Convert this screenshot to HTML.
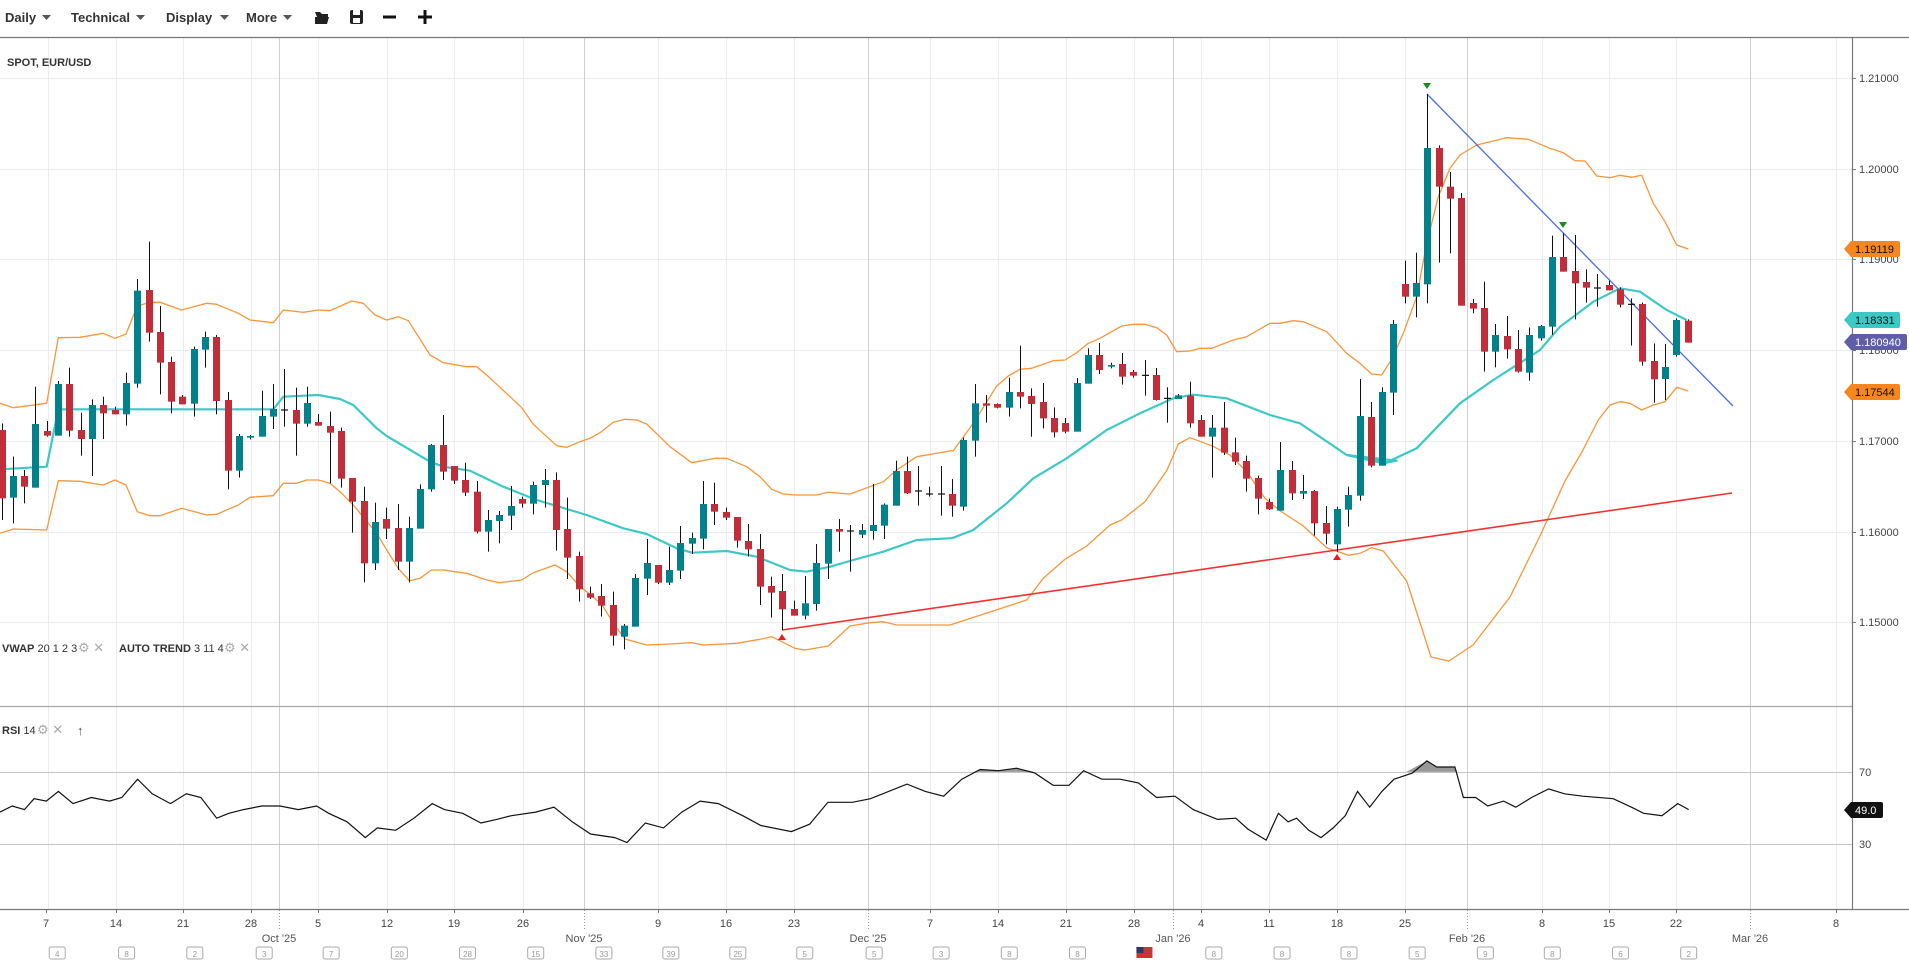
<!DOCTYPE html>
<html><head><meta charset="utf-8"><style>
html,body{margin:0;padding:0;background:#fff;width:1909px;height:967px;overflow:hidden;font-family:"Liberation Sans",sans-serif}
svg{display:block}
</style></head><body>
<svg id="s" width="1909" height="967" viewBox="0 0 1909 967" xmlns="http://www.w3.org/2000/svg" font-family="Liberation Sans, sans-serif">
<rect width="1909" height="967" fill="#fff"/>
<g id="grid"></g>
<g id="lines"></g>
<g id="candles"></g>
<g id="over"></g>
<!-- toolbar -->
<g font-size="13" font-weight="bold" fill="#333">
<text x="5" y="22">Daily</text><path d="M42 15h9l-4.5 5z" fill="#555"/>
<text x="71" y="22">Technical</text><path d="M136 15h9l-4.5 5z" fill="#555"/>
<text x="166" y="22">Display</text><path d="M220 15h9l-4.5 5z" fill="#555"/>
<text x="246" y="22">More</text><path d="M283 15h9l-4.5 5z" fill="#555"/>
<path d="M315 12h5l2 2h6v3h-11zM315 17h14l-2 7h-12z" fill="#222"/>
<rect x="350" y="10" width="13" height="14" rx="2" fill="#222"/><rect x="353" y="10" width="7" height="5" fill="#fff"/><rect x="353" y="18" width="7" height="5" fill="#fff"/>
<rect x="383" y="15.5" width="13" height="3" fill="#111"/>
<rect x="418" y="15.5" width="14" height="3" fill="#111"/><rect x="423.5" y="10" width="3" height="14" fill="#111"/>
</g>
<line x1="0" y1="37.5" x2="1909" y2="37.5" stroke="#777" stroke-width="1.2"/>
<text x="7" y="66" font-size="11" font-weight="bold" fill="#333">SPOT, EUR/USD</text>
<g font-size="11" fill="#333">
<text x="2" y="652"><tspan font-weight="bold">VWAP</tspan> 20 1 2 3</text>
<text x="78" y="652" fill="#aaa" font-size="13">⚙ ✕</text>
<text x="119" y="652"><tspan font-weight="bold">AUTO TREND</tspan> 3 11 4</text>
<text x="224" y="652" fill="#aaa" font-size="13">⚙ ✕</text>
<text x="2" y="734"><tspan font-weight="bold">RSI</tspan> 14</text>
<text x="37" y="734" fill="#aaa" font-size="13">⚙ ✕</text>
<text x="77" y="735" fill="#555" font-size="13">↑</text>
</g>
</svg>
<script>
const NS="http://www.w3.org/2000/svg";
function el(p,t,a,txt){const e=document.createElementNS(NS,t);for(const k in a)e.setAttribute(k,a[k]);if(txt!==undefined)e.textContent=txt;document.getElementById(p).appendChild(e);return e;}
// grid
const hy=[78,169,259,350,441,532,622];
hy.forEach(y=>el('grid','line',{x1:0,y1:y+.5,x2:1852,y2:y+.5,stroke:'#ececec'}));
const wk=[48,116,183,251,318,387,454,523,658,726,794,930,998,1066,1134,1201,1269,1337,1405,1542,1609,1676,1836];
wk.forEach(x=>el('grid','line',{x1:x+.5,y1:38,x2:x+.5,y2:909,stroke:'#ececec'}));
const mo=[279,584,868,1173,1467,1750];
mo.forEach(x=>el('grid','line',{x1:x+.5,y1:38,x2:x+.5,y2:909,stroke:'#cfcfcf'}));
el('grid','line',{x1:0,y1:706.5,x2:1852,y2:706.5,stroke:'#aaa',"stroke-width":1.2});
el('grid','line',{x1:0,y1:772.5,x2:1852,y2:772.5,stroke:'#c4c4c4'});
el('grid','line',{x1:0,y1:844.5,x2:1852,y2:844.5,stroke:'#c4c4c4'});
el('grid','line',{x1:0,y1:909.5,x2:1909,y2:909.5,stroke:'#777',"stroke-width":1.2});
el('grid','line',{x1:1852.5,y1:38,x2:1852.5,y2:909,stroke:'#777',"stroke-width":1.2});
// price axis
[["1.21000",78],["1.20000",169],["1.19000",259],["1.18000",350],["1.17000",441],["1.16000",532],["1.15000",622]].forEach(([t,y])=>{
 el('grid','line',{x1:1852,y1:y+.5,x2:1856,y2:y+.5,stroke:'#777'});
 el('grid','text',{x:1859,y:y+4,"font-size":11,fill:'#444'},t);});
el('grid','text',{x:1859,y:776,"font-size":11,fill:'#444'},"70");
el('grid','text',{x:1859,y:848,"font-size":11,fill:'#444'},"30");
// date labels
const dl=[[7,46],[14,116],[21,183],[28,251],[5,318],[12,387],[19,454],[26,523],[9,658],[16,726],[23,794],[7,930],[14,998],[21,1066],[28,1134],[4,1201],[11,1269],[18,1337],[25,1405],[8,1542],[15,1609],[22,1676],[8,1836]];
dl.forEach(([t,x])=>{el('grid','text',{x:x,y:927,"font-size":11,fill:'#444',"text-anchor":"middle"},String(t));el('grid','line',{x1:x+.5,y1:909,x2:x+.5,y2:913,stroke:'#777'});});
[["Oct '25",279],["Nov '25",584],["Dec '25",868],["Jan '26",1173],["Feb '26",1467],["Mar '26",1750]].forEach(([t,x])=>{
 el('grid','text',{x:x,y:942,"font-size":11,fill:'#555',"text-anchor":"middle"},t);
 el('grid','line',{x1:x+.5,y1:910,x2:x+.5,y2:930,stroke:'#999',"stroke-dasharray":"1,2"});});
const cal=[[47,4],[104,8],[160,2],[217,3],[272,7],[328,20],[384,28],[440,15],[496,33],[551,39],[606,25],[661,5],[718,5],[773,3],[829,8],[885,8],[940,-1],[997,8],[1053,8],[1108,8],[1164,5],[1220,9],[1275,8],[1331,6],[1387,2]];
cal.forEach(([dx,n])=>{const x=dx*1.2175;
 if(n<0){el('grid','rect',{x:x-8,y:947,width:16,height:11,fill:'#c33'});el('grid','rect',{x:x-8,y:947,width:7,height:6,fill:'#336'});return;}
 el('grid','rect',{x:x-8,y:947,width:16,height:12,rx:2,fill:'#fff',stroke:'#aaa'});
 el('grid','text',{x:x,y:957,"font-size":8,fill:'#999',"text-anchor":"middle"},String(n));});
// polylines
function pl(arr,ox,oy,s){return arr.map(p=>(ox+p[0]/s).toFixed(1)+","+(oy+p[1]/s).toFixed(1)).join(" ");}
function line(pts,col,w){el('lines','polyline',{points:pts,fill:'none',stroke:col,"stroke-width":w,"stroke-linejoin":"round"});}
const OR='#f7963a',TL='#3cc9c6';
// upper band
let up=pl([[0,550],[40,563],[140,550],[175,353],[240,352],[310,340],[345,355],[378,342],[412,258],[450,247],[480,247],[545,270],[620,250],[650,253],[715,280],[750,300],[820,308],[850,270],[910,277],[955,270],[990,272],[1055,243],[1090,250],[1125,285],[1160,300],[1195,290],[1225,302],[1290,405],[1330,428],[1400,440]],0,220,3)+" "+
pl([[20,80],[50,105],[120,170],[155,203],[190,253],[260,317],[290,322],[330,305],[360,295],[390,278],[430,247],[465,238],[500,240],[530,252],[600,320],[665,368],[735,355],[770,355],[830,380],[870,410],[905,448],[940,462],[975,465],[1040,465],[1075,457],[1140,462],[1200,440],[1240,425],[1280,390],[1340,350],[1440,333]],470,340,3)+" "+
pl([[40,452],[100,370],[170,258],[205,228],[240,208],[275,205],[340,182],[375,180],[410,158],[445,130],[480,115],[545,78],[580,73],[615,73],[650,83],[680,105],[710,155],[750,153],[780,145],[815,145],[880,120],[920,110],[990,70],[1020,70],[1060,62],[1090,65],[1160,95],[1220,160],[1260,190],[1295,222]],940,300,3)+" "+
pl([[185,915],[215,868],[250,790],[290,680],[320,520],[355,380],[390,295],[420,255],[470,225],[520,213],[560,203],[625,208],[690,235],[730,248],[765,272],[795,273],[830,318],[870,323],[900,316],[935,322],[965,316],[1000,400],[1035,455],[1070,525],[1105,537]],1320,70,3);
line(up,OR,1.3);
let lo=pl([[0,940],[40,927],[140,930],[175,782],[240,784],[310,795],[345,780],[378,795],[412,875],[450,887],[480,887],[545,865],[620,885],[650,883],[715,855],[750,832],[820,827],[850,790],[890,790],[920,780],[955,780],[990,790],[1020,815],[1060,855],[1130,940],[1160,990],[1195,1045],[1228,1082],[1260,1075],[1294,1050],[1330,1050],[1365,1055],[1400,1060]],0,220,3)+" "+
pl([[50,720],[90,728],[155,720],[190,698],[255,675],[290,695],[330,740],[370,770],[400,800],[430,850],[465,897],[530,915],[600,912],[665,908],[700,915],[800,910],[870,898],[905,890],[975,925],[1005,930],[1075,918],[1140,858],[1200,848],[1240,845],[1280,855],[1440,855]],470,340,3)+" "+
pl([[260,900],[310,835],[375,778],[440,738],[510,675],[545,660],[615,605],[680,512],[715,432],[750,413],[815,437],[870,465],[920,515],[975,595],[1020,632],[1090,678],[1160,743],[1225,766],[1260,760],[1295,743],[1330,753],[1400,843]],940,300,3)+" 1431,657 1449,661 1473,645 1510,597 1540,536 1565,481 1583,450 "+
pl([[835,1050],[870,1005],[900,995],[930,1000],[965,1020],[1000,1005],[1035,995],[1070,952],[1105,963]],1320,70,3);
line(lo,OR,1.3);
let vw=pl([[0,748],[140,740],[175,568],[820,568],[850,530],[955,525],[1020,537],[1060,555],[1130,625],[1160,648],[1290,725],[1330,740]],0,220,3)+" "+
pl([[0,392],[100,440],[200,480],[350,525],[460,565],[530,582],[620,625],[667,638],[770,633],[860,650],[960,690],[1010,695],[1080,680],[1150,660],[1240,635],[1340,600],[1440,595]],470,340,3)+" "+
pl([[40,713],[100,690],[200,610],[280,535],[380,475],[500,390],[600,340],[700,295],[760,284],[860,295],[990,345],[1080,370],[1220,465],[1330,490],[1370,482]],940,300,3)+" "+
pl([[80,1155],[200,1177],[290,1135],[420,1000],[520,930],[660,840],[720,770],[820,695],[900,655],[960,665],[1040,720],[1100,750]],1320,70,3);
line(vw,TL,2.2);
el('lines','line',{x1:782,y1:630,x2:1732,y2:493,stroke:'#f23030',"stroke-width":1.6});
el('lines','line',{x1:1427,y1:94,x2:1733,y2:406,stroke:'#4a6fe0',"stroke-width":1.3});
// candles
const R='#c12e3a',T='#00818b';
const C=[
[0,220,[[5,630,835,610,900,0],[40,768,833,710,910,1],[73,768,800,750,850,0],[106,612,803,500,803,1],[142,633,647,603,650,0],[175,492,647,483,647,1],[208,492,632,443,650,0],[244,630,657,578,707,0],[277,555,657,538,768,1],[310,555,580,530,657,0],[346,570,583,560,583,0],[379,489,583,458,617,1],[412,212,491,177,503,1],[448,210,338,65,365,0],[481,336,428,258,523,0],[514,426,545,410,580,0],[547,530,553,525,553,0],[583,387,551,380,590,1],[616,351,389,335,443,1],[649,351,543,345,583,0],[685,540,752,516,808,0],[718,648,752,642,773,1],[751,648,653,645,658,1],[787,588,650,512,650,1],[820,567,590,492,627,1],[853,570,572,447,620,2],[889,570,611,503,707,0],[922,549,611,500,620,1],[955,606,617,582,617,0],[991,618,638,575,790,0],[1024,633,776,623,803,0],[1057,774,845,774,938,0],[1093,843,1030,800,1087,0],[1126,906,1030,848,1050,1],[1159,897,926,863,957,0],[1195,924,1025,852,1050,0],[1228,924,1025,890,1087,1],[1261,807,926,793,926,1],[1294,675,808,672,815,1],[1330,675,755,585,780,0],[1363,738,782,738,792,0],[1396,780,818,728,828,0],[1432,815,935,783,940,0]]],
[470,340,[[55,540,575,510,635,1],[88,525,543,513,610,1],[124,498,527,438,570,1],[157,477,491,470,503,0],[190,435,491,425,523,1],[226,420,435,387,503,1],[259,420,570,397,632,0],[292,567,653,473,717,0],[328,648,748,635,785,0],[361,760,773,740,777,0],[394,768,797,732,830,0],[430,795,887,755,917,0],[463,857,890,852,928,1],[496,714,860,702,860,1],[532,669,716,597,765,1],[565,675,728,675,732,0],[598,690,728,620,735,1],[631,609,692,558,717,1],[667,594,611,578,642,1],[700,492,596,423,628,1],[733,492,515,428,555,0],[769,516,533,503,540,0],[802,531,602,531,623,0],[835,603,628,552,650,0],[871,627,740,582,795,0],[904,738,758,710,833,0],[937,753,808,702,870,0],[973,807,827,782,827,0],[1006,790,827,708,838,1],[1039,669,792,612,812,1],[1075,567,671,567,717,1],[1108,567,575,537,635,0],[1141,573,575,555,695,2],[1177,570,584,552,594,1],[1210,555,573,432,599,1],[1243,494,557,490,597,1],[1279,393,497,362,497,1],[1312,393,460,350,462,0],[1345,453,455,378,497,2],[1378,462,465,440,470,2],[1414,462,464,378,527,2]]],
[940,300,[[37,582,617,537,650,0],[70,420,620,413,632,1],[106,310,422,252,470,1],[139,310,317,285,368,0],[172,312,323,310,325,0],[208,276,323,233,350,1],[241,276,290,137,325,0],[274,288,312,265,410,0],[310,306,355,249,385,0],[343,354,397,322,412,0],[376,369,395,354,400,0],[412,249,395,234,395,1],[445,165,251,145,251,1],[478,165,210,129,222,0],[514,195,200,188,205,1],[547,192,230,159,254,0],[580,216,227,210,233,0],[616,226,227,180,287,2],[649,225,300,204,302,0],[682,295,297,262,368,2],[715,286,297,282,297,1],[751,287,370,245,383,0],[784,360,410,345,410,0],[817,383,410,345,533,1],[853,383,458,306,465,0],[886,457,485,413,495,0],[919,483,536,467,575,0],[955,534,596,527,643,0],[988,606,628,596,630,0],[1021,510,632,426,632,1],[1057,510,580,483,600,0],[1090,573,581,525,597,1],[1123,573,670,570,707,0],[1159,669,701,618,733,0],[1192,627,733,620,755,1],[1225,585,629,560,680,1],[1261,348,587,237,602,1],[1294,351,497,306,502,0],[1327,276,497,262,497,1],[1360,72,278,60,345,1]]],
[1320,70,[[256,642,680,572,700,0],[289,639,680,548,742,1],[322,234,643,72,700,1],[358,234,350,226,578,0],[391,350,386,306,550,0],[424,384,707,369,707,0],[460,699,716,687,730,0],[493,714,845,635,905,0],[526,795,845,762,892,1],[562,798,838,738,866,0],[595,837,905,780,908,0],[628,795,908,772,932,1],[664,768,805,765,812,1],[697,561,770,497,795,1],[730,561,605,490,605,0],[766,603,640,495,748,0],[799,636,653,598,698,0],[832,654,656,612,710,2],[868,645,661,632,661,0],[901,658,704,652,712,0],[934,703,705,685,827,2],[967,702,875,698,887,0],[1003,873,928,820,998,0],[1036,891,927,822,990,1],[1069,750,855,745,860,1],[1105,752,818,748,818,0]]]
];
C.forEach(([ox,oy,arr])=>arr.forEach(([x,bt,bb,wt,wb,c])=>{
 const cx=Math.round(ox+x/3)+.5;
 el('candles','line',{x1:cx,y1:oy+wt/3,x2:cx,y2:oy+wb/3,stroke:'#111',"stroke-width":1});
 if(c==2){el('candles','line',{x1:cx-3.5,y1:oy+bt/3,x2:cx+3.5,y2:oy+bt/3,stroke:'#111',"stroke-width":1.2});return;}
 const h=Math.max(1.5,(bb-bt)/3);
 el('candles','rect',{x:cx-3.5,y:oy+bt/3,width:7,height:h,fill:c?T:R});
}));
// markers
function tri(x,y,dn,col){el('over','path',{d:dn?`M${x-4},${y-3}h8l-4,6z`:`M${x-4},${y+3}h8l-4,-6z`,fill:col});}
tri(1427,86,1,'#1a8a1a');tri(1563,225,1,'#1a8a1a');tri(782,637,0,'#f01818');tri(1337,557,0,'#f01818');
// RSI
const rsi=[[0,667],[10,662],[20,665],[28,656],[38,658],[48,650],[60,660],[75,655],[90,658],[100,655],[113,640],[125,652],[140,660],[153,652],[165,655],[178,672],[188,668],[200,665],[215,662],[230,662],[245,665],[260,662],[270,668],[285,675],[300,688],[310,680],[325,682],[340,672],[355,660],[365,665],[380,668],[395,676],[408,673],[420,670],[440,667],[455,663],[470,675],[485,685],[505,688],[515,692],[530,676],[545,680],[560,667],[575,658],[590,660],[610,670],[625,678],[650,683],[665,677],[680,659],[700,659],[715,656],[735,648],[745,644],[760,650],[775,654],[790,640],[805,632],[820,633],[835,631],[850,635],[865,645],[878,645],[890,633],[905,640],[920,640],[935,643],[950,655],[965,654],[980,665],[1000,673],[1015,672],[1025,681],[1040,690],[1050,668],[1058,675],[1065,672],[1075,682],[1085,688],[1095,680],[1105,670],[1115,650],[1125,663],[1135,650],[1145,640],[1160,635],[1172,625],[1180,630],[1195,630],[1202,655],[1212,655],[1222,662],[1235,658],[1245,663],[1258,655],[1272,648],[1285,652],[1300,654],[1325,656],[1340,663],[1350,668],[1365,670],[1378,660],[1387,665]];
const k=1.2175;
el('lines','path',{d:`M${1155*k},${634*k} L${1172*k},${625*k} L${1180*k},${630*k} L${1195*k},${630*k} L${1197*k},${634*k}Z`,fill:'#999'});
el('lines','path',{d:`M${800*k},${634*k} L${805*k},${632*k} L${820*k},${633*k} L${835*k},${631*k} L${850*k},${634*k}Z`,fill:'#999'});
el('lines','polyline',{points:rsi.map(p=>(p[0]*k).toFixed(1)+","+(p[1]*k).toFixed(1)).join(" "),fill:'none',stroke:'#111',"stroke-width":1.2});
// price tags
function tag(y,txt,bg,fg,w){el('over','path',{d:`M1844,${y} l7,-8 h${w} a2,2 0 0 1 2,2 v12 a2,2 0 0 1 -2,2 h-${w}z`,fill:bg});
 el('over','text',{x:1855,y:y+4,"font-size":11,fill:fg},txt);}
tag(249,"1.19119",'#f7861e','#111',47);
tag(320,"1.18331",'#3cc9c6','#111',47);
tag(342,"1.180940",'#5f5ca8','#fff',54);
tag(392,"1.17544",'#f7861e','#111',47);
tag(810,"49.0",'#111','#fff',30);
</script>
</body></html>
